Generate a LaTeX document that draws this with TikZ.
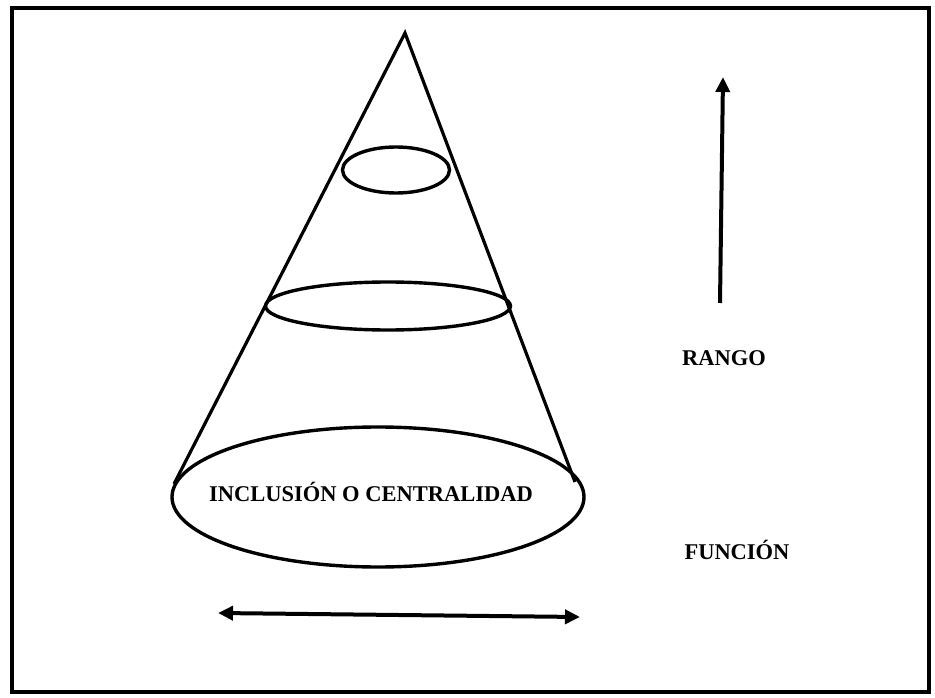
\documentclass[tikz,border=0pt]{standalone}
\usepackage{fontspec}
\setmainfont{Liberation Serif}
\usetikzlibrary{shapes.geometric,arrows.meta}
\begin{document}
\begin{tikzpicture}[x=1pt,y=-1pt,
  frame/.style={line width=3.8pt},
  cone/.style={line width=3.2pt},
  ring/.style={draw,ellipse,line width=3.4pt,inner sep=0pt},
  arr/.style={line width=4pt,-{Triangle[length=15pt,width=14pt]}},
  darr/.style={line width=4pt,{Triangle[length=15pt,width=14pt]}-{Triangle[length=15pt,width=14pt]}},
  lbl/.style={font=\fontsize{22.5pt}{26pt}\selectfont\bfseries,inner sep=0pt}]
\useasboundingbox (0,0) rectangle (935,698);
\draw[frame] (12,8) rectangle (929,692);
\coordinate (apex) at (405,33);
\coordinate (lfoot) at (174,484);
\coordinate (rfoot) at (575,482);
\draw[cone,line join=miter] (lfoot) -- (apex) -- (rfoot);
\node[ring,minimum width=107pt,minimum height=46pt] (top) at (396,170) {};
\node[ring,minimum width=245pt,minimum height=48pt] (mid) at (388,306) {};
\node[ring,minimum width=412pt,minimum height=140pt] (base) at (378,497) {};
\node[lbl] (incl) at (371,492) {INCLUSIÓN O CENTRALIDAD};
\node[lbl] (rango) at (724,358) {RANGO};
\node[lbl] (funcion) at (737,550) {FUNCIÓN};
\coordinate (vb) at (720,303);
\coordinate (vt) at (723,77);
\draw[arr] (vb) -- (vt);
\coordinate (hl) at (218,613);
\coordinate (hr) at (580,617);
\draw[darr] (hl) -- (hr);
\end{tikzpicture}
\end{document}
